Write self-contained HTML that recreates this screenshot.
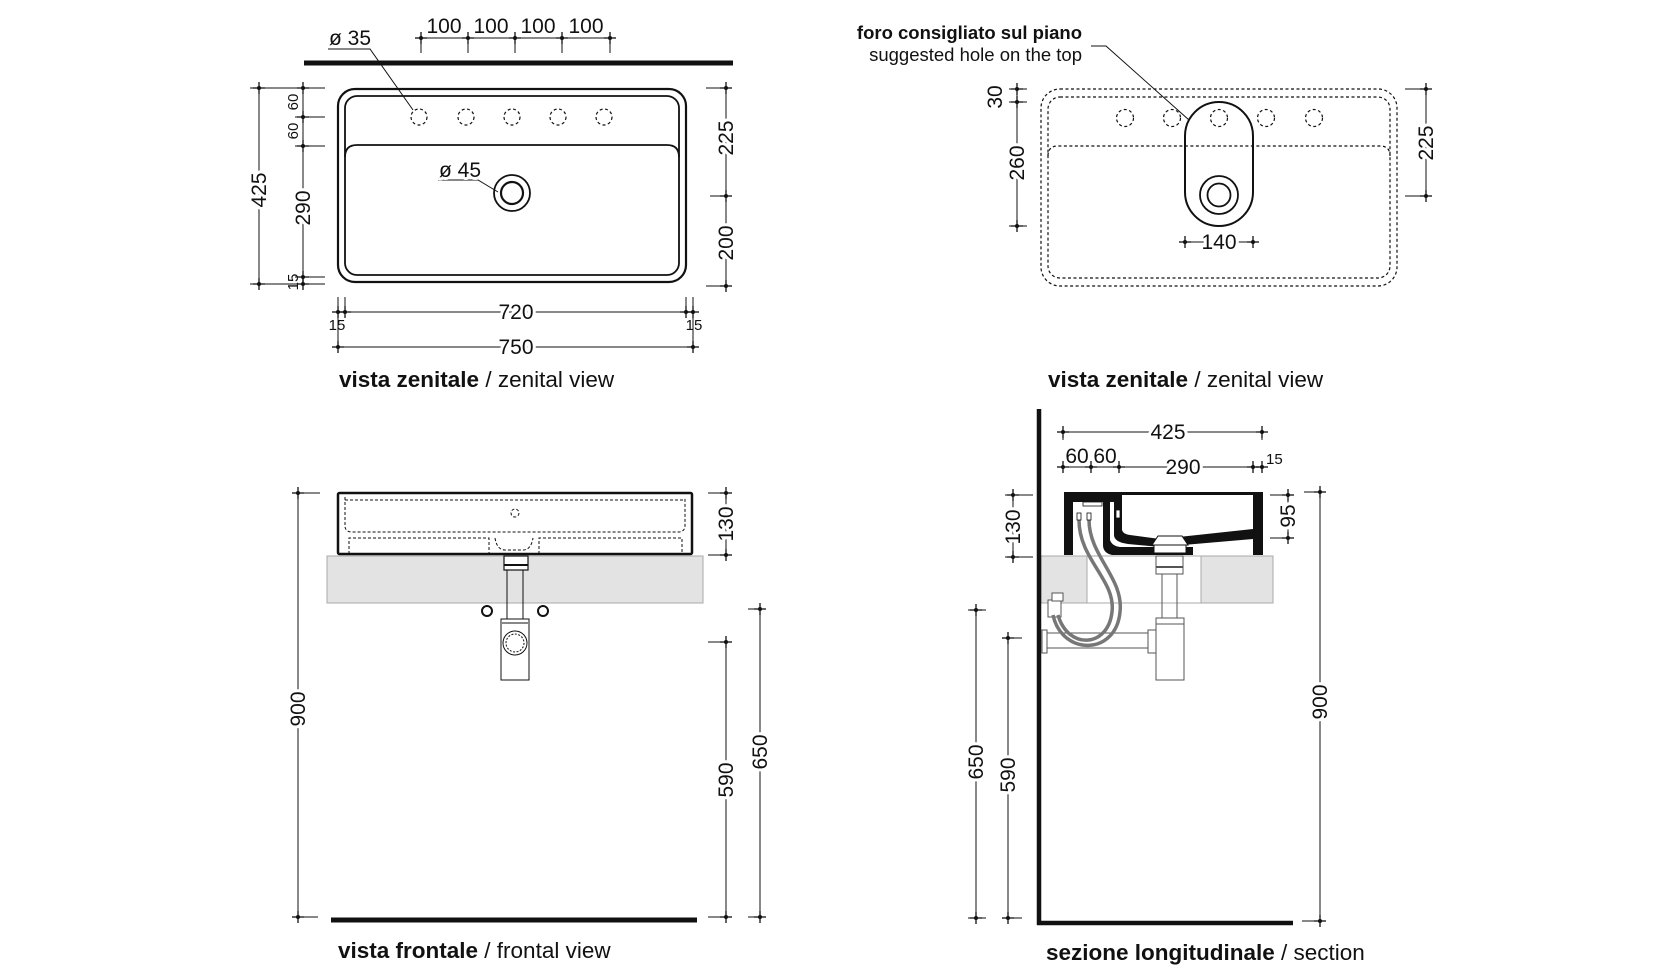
<!DOCTYPE html>
<html><head><meta charset="utf-8"><style>
html,body{margin:0;padding:0;background:#fff;}
svg{display:block;}
text{font-family:"Liberation Sans",sans-serif;fill:#111;}
.d{font-size:21px;paint-order:stroke;stroke:#fff;stroke-width:6px;stroke-linejoin:round;}
.s{font-size:15px;}
.c{font-size:22.5px;}
</style></head><body>
<svg width="1654" height="977" viewBox="0 0 1654 977" xmlns="http://www.w3.org/2000/svg">
<defs>
<g id="t" stroke="#111" stroke-width="1.3"><line x1="-6" y1="0" x2="6" y2="0"/><line x1="0" y1="-6" x2="0" y2="6"/><circle r="2" fill="#111" stroke="none"/></g>
</defs>
<rect width="1654" height="977" fill="#fff"/>

<!-- ========== TOP LEFT: vista zenitale ========== -->
<g fill="none" stroke="#111">
<line x1="304" y1="63" x2="733" y2="63" stroke-width="5"/>
<rect x="338" y="89" width="348" height="193" rx="17" stroke-width="2.2"/>
<rect x="345" y="96" width="334" height="179" rx="12" stroke-width="1.8"/>
<path d="M345,157 Q345,145 357,145 L667,145 Q679,145 679,157" stroke-width="1.8"/>
<g stroke-dasharray="3,2.5" stroke-width="1.2">
<circle cx="419" cy="117" r="8"/><circle cx="466" cy="117" r="8"/><circle cx="512" cy="117" r="8"/><circle cx="558" cy="117" r="8"/><circle cx="604" cy="117" r="8"/>
</g>
<circle cx="512" cy="193" r="18" stroke-width="1.8"/>
<circle cx="512" cy="193" r="11" stroke-width="2.2"/>
<polyline points="328,49 370,49 413,110" stroke-width="1"/>
<polyline points="438,180 478,180 498,192" stroke-width="1"/>
<g stroke-width="1"><line x1="415" y1="38" x2="616" y2="38"/>
<line x1="421" y1="38" x2="421" y2="53"/><line x1="468" y1="38" x2="468" y2="53"/><line x1="515" y1="38" x2="515" y2="53"/><line x1="562" y1="38" x2="562" y2="53"/><line x1="610" y1="38" x2="610" y2="53"/>
<line x1="259" y1="88" x2="259" y2="284"/><line x1="303" y1="88" x2="303" y2="284"/>
<line x1="250" y1="88" x2="325" y2="88"/><line x1="295" y1="117" x2="325" y2="117"/><line x1="295" y1="146" x2="325" y2="146"/><line x1="295" y1="277" x2="325" y2="277"/><line x1="250" y1="284" x2="325" y2="284"/>
<line x1="726" y1="88" x2="726" y2="286"/><line x1="706" y1="88" x2="732" y2="88"/><line x1="710" y1="196" x2="732" y2="196"/><line x1="706" y1="286" x2="732" y2="286"/>
<line x1="338" y1="312" x2="693" y2="312"/><line x1="338" y1="347" x2="693" y2="347"/>
<line x1="338" y1="297" x2="338" y2="352"/><line x1="345" y1="297" x2="345" y2="318"/><line x1="686" y1="297" x2="686" y2="318"/><line x1="693" y1="297" x2="693" y2="352"/>
</g>
</g>
<g>
<use href="#t" x="421" y="38"/><use href="#t" x="468" y="38"/><use href="#t" x="515" y="38"/><use href="#t" x="562" y="38"/><use href="#t" x="610" y="38"/>
<use href="#t" x="259" y="88"/><use href="#t" x="259" y="284"/>
<use href="#t" x="303" y="88"/><use href="#t" x="303" y="117"/><use href="#t" x="303" y="146"/><use href="#t" x="303" y="277"/><use href="#t" x="303" y="284"/>
<use href="#t" x="726" y="88"/><use href="#t" x="726" y="196"/><use href="#t" x="726" y="286"/>
<use href="#t" x="338" y="312"/><use href="#t" x="345" y="312"/><use href="#t" x="686" y="312"/><use href="#t" x="693" y="312"/>
<use href="#t" x="338" y="347"/><use href="#t" x="693" y="347"/>
</g>
<text x="444" y="33" class="d" text-anchor="middle">100</text>
<text x="491" y="33" class="d" text-anchor="middle">100</text>
<text x="538" y="33" class="d" text-anchor="middle">100</text>
<text x="586" y="33" class="d" text-anchor="middle">100</text>
<text x="329" y="45" class="d">ø 35</text>
<text x="439" y="177" class="d">ø 45</text>
<text class="d" text-anchor="middle" transform="translate(266,190) rotate(-90)">425</text>
<text class="d" text-anchor="middle" transform="translate(310,208) rotate(-90)">290</text>
<text class="s" text-anchor="middle" transform="translate(298,102) rotate(-90)">60</text>
<text class="s" text-anchor="middle" transform="translate(298,131) rotate(-90)">60</text>
<text class="s" text-anchor="middle" transform="translate(298,282) rotate(-90)">15</text>
<text class="d" text-anchor="middle" transform="translate(733,138) rotate(-90)">225</text>
<text class="d" text-anchor="middle" transform="translate(733,243) rotate(-90)">200</text>
<text x="516" y="319" class="d" text-anchor="middle">720</text>
<text x="516" y="354" class="d" text-anchor="middle">750</text>
<text x="337" y="330" class="s" text-anchor="middle">15</text>
<text x="694" y="330" class="s" text-anchor="middle">15</text>
<text x="339" y="387" class="c"><tspan font-weight="bold">vista zenitale</tspan> / zenital view</text>

<!-- ========== TOP RIGHT ========== -->
<g transform="translate(-5,0)">
<g fill="none" stroke="#111">
<g stroke-dasharray="3,2.5" stroke-width="1.2">
<rect x="1046" y="89" width="356" height="197" rx="19"/>
<rect x="1053" y="97" width="342" height="181" rx="12"/>
<path d="M1053,156 Q1053,146 1063,146 L1385,146 Q1395,146 1395,156"/>
<circle cx="1130" cy="118" r="8.5"/><circle cx="1177" cy="118" r="8.5"/><circle cx="1224" cy="118" r="8.5"/><circle cx="1271" cy="118" r="8.5"/><circle cx="1319" cy="118" r="8.5"/>
</g>
<rect x="1190" y="102" width="68" height="124" rx="34" fill="none" stroke-width="2"/>
<circle cx="1224" cy="195" r="19" stroke-width="1.8"/>
<circle cx="1224" cy="195" r="11.5" stroke-width="1.8"/>
<polyline points="1096,46 1111,46 1194,120" stroke-width="1"/>
<g stroke-width="1">
<line x1="1022" y1="89" x2="1022" y2="226"/><line x1="1014" y1="89" x2="1032" y2="89"/><line x1="1014" y1="102" x2="1032" y2="102"/><line x1="1014" y1="226" x2="1032" y2="226"/>
<line x1="1431" y1="89" x2="1431" y2="196"/><line x1="1410" y1="89" x2="1437" y2="89"/><line x1="1410" y1="196" x2="1437" y2="196"/>
<line x1="1190" y1="242" x2="1258" y2="242"/>
</g>
</g>
<use href="#t" x="1022" y="89"/><use href="#t" x="1022" y="102"/><use href="#t" x="1022" y="226"/>
<use href="#t" x="1431" y="89"/><use href="#t" x="1431" y="196"/>
<use href="#t" x="1190" y="242"/><use href="#t" x="1258" y="242"/>
<text x="1087" y="39" font-size="18.5" font-weight="bold" text-anchor="end">foro consigliato sul piano</text>
<text x="1087" y="61" font-size="18.5" text-anchor="end">suggested hole on the top</text>
<text class="d" text-anchor="middle" transform="translate(1007,97) rotate(-90)">30</text>
<text class="d" text-anchor="middle" transform="translate(1029,163) rotate(-90)">260</text>
<text class="d" text-anchor="middle" transform="translate(1438,143) rotate(-90)">225</text>
<text x="1224" y="249" class="d" text-anchor="middle">140</text>
</g>
<text x="1048" y="387" class="c"><tspan font-weight="bold">vista zenitale</tspan> / zenital view</text>

<!-- ========== BOTTOM LEFT: frontal ========== -->
<rect x="327" y="556" width="376" height="47" fill="#e3e3e3" stroke="#aaa" stroke-width="1"/>
<g fill="none" stroke="#111">
<rect x="338" y="493" width="354" height="61" stroke-width="2.5" rx="1.5"/>
<g stroke-dasharray="3,2" stroke-width="1">
<path d="M345,497 L345,527 Q346,532 352,532 L678,532 Q684,532 685,527 L685,497"/>
<line x1="345" y1="500" x2="685" y2="500"/>
<path d="M349,554 L349,538 L489,538 L489,554"/>
<path d="M539,554 L539,538 L682,538 L682,554"/>
<path d="M495,538 Q497,550 505,550 L523,550 Q531,550 533,538"/>
<circle cx="515" cy="513" r="4"/>
</g>
<rect x="504" y="556" width="24" height="14" fill="#fff" stroke-width="1.2"/>
<line x1="504" y1="565" x2="528" y2="565" stroke-width="2"/>
<line x1="507" y1="570" x2="507" y2="619" stroke-width="1"/><line x1="523" y1="570" x2="523" y2="619" stroke-width="1"/>
<rect x="501" y="619" width="28" height="61" fill="#fff" stroke-width="1"/>
<line x1="502" y1="623" x2="528" y2="623" stroke-width="1"/>
<circle cx="515" cy="643" r="12" stroke-width="1"/>
<circle cx="515" cy="643" r="9" stroke-width="1" stroke-dasharray="2,1.5"/>
<circle cx="487" cy="611" r="5" stroke-width="2"/>
<circle cx="543" cy="611" r="5" stroke-width="2"/>
<line x1="331" y1="920" x2="697" y2="920" stroke-width="5"/>
<g stroke-width="1">
<line x1="298" y1="493" x2="298" y2="917"/><line x1="292" y1="493" x2="320" y2="493"/><line x1="292" y1="917" x2="318" y2="917"/>
<line x1="726" y1="493" x2="726" y2="555"/><line x1="708" y1="493" x2="732" y2="493"/><line x1="708" y1="555" x2="732" y2="555"/>
<line x1="726" y1="642" x2="726" y2="917"/><line x1="708" y1="642" x2="732" y2="642"/><line x1="708" y1="917" x2="732" y2="917"/>
<line x1="760" y1="609" x2="760" y2="917"/><line x1="748" y1="609" x2="766" y2="609"/><line x1="748" y1="917" x2="766" y2="917"/>
</g>
</g>
<use href="#t" x="298" y="493"/><use href="#t" x="298" y="917"/>
<use href="#t" x="726" y="493"/><use href="#t" x="726" y="555"/><use href="#t" x="726" y="642"/><use href="#t" x="726" y="917"/>
<use href="#t" x="760" y="609"/><use href="#t" x="760" y="917"/>
<text class="d" text-anchor="middle" transform="translate(305,709) rotate(-90)">900</text>
<text class="d" text-anchor="middle" transform="translate(733,524) rotate(-90)">130</text>
<text class="d" text-anchor="middle" transform="translate(733,780) rotate(-90)">590</text>
<text class="d" text-anchor="middle" transform="translate(767,752) rotate(-90)">650</text>
<text x="338" y="958" class="c"><tspan font-weight="bold">vista frontale</tspan> / frontal view</text>

<!-- ========== BOTTOM RIGHT: section ========== -->
<rect x="1041" y="556" width="46" height="47" fill="#e3e3e3" stroke="#aaa" stroke-width="1"/>
<rect x="1201" y="556" width="72" height="47" fill="#e3e3e3" stroke="#aaa" stroke-width="1"/>
<line x1="1087" y1="603" x2="1201" y2="603" stroke="#aaa" stroke-width="1"/>
<line x1="1087" y1="556" x2="1201" y2="556" stroke="#aaa" stroke-width="1"/>
<g fill="#111">
<rect x="1064" y="492" width="199" height="3"/>
<rect x="1064" y="492" width="9" height="63"/>
<rect x="1064" y="492" width="58" height="10"/>
<rect x="1253" y="492" width="10" height="63"/>
<path d="M1103,500 L1110,500 L1110,540 Q1112,546 1120,547 L1193,547 L1193,555 L1112,555 Q1103,553 1103,545 Z"/>
<path d="M1114,500 L1122,500 L1122,530 Q1123,534 1130,535 L1160,539 L1253,529 L1253,539 L1160,547 L1128,544 Q1114,542 1114,535 Z"/>
</g>
<rect x="1083" y="502" width="19" height="4" fill="#fff" stroke="#111" stroke-width="0.8"/>
<rect x="1116" y="510" width="4" height="8" fill="#fff" stroke="#111" stroke-width="0.8"/>
<path d="M1152,545 L1158,536 L1182,536 L1188,545 Z" fill="#fff" stroke="#111" stroke-width="1"/>
<rect x="1154" y="545" width="32" height="8" fill="#fff" stroke="#111" stroke-width="1"/>
<g fill="none" stroke="#555" stroke-width="1">
<rect x="1156" y="556" width="27" height="18" fill="#fff"/>
<line x1="1156" y1="567" x2="1183" y2="567" stroke-width="2"/>
<line x1="1162" y1="574" x2="1162" y2="618"/><line x1="1177" y1="574" x2="1177" y2="618"/>
<rect x="1156" y="618" width="28" height="62" fill="#fff"/>
<line x1="1156" y1="624" x2="1184" y2="624"/>
<line x1="1046" y1="633" x2="1149" y2="633"/><line x1="1046" y1="648" x2="1149" y2="648"/>
<rect x="1148" y="630" width="8" height="23" fill="#fff"/>
<rect x="1042" y="630" width="5" height="23" fill="#fff"/>
<rect x="1048" y="600" width="13" height="17" fill="#fff"/>
<rect x="1052" y="593" width="11" height="8" fill="#fff"/>
</g>
<g fill="none" stroke="#777" stroke-width="3.5">
<path d="M1079,520 C1079,560 1116,580 1112,612 C1108,648 1068,650 1058,615"/>
<path d="M1089,520 C1089,556 1124,578 1120,612 C1116,656 1062,656 1053,615"/>
</g>
<g fill="none" stroke="#111">
<rect x="1077" y="513" width="4" height="7" fill="#fff" stroke-width="0.8"/>
<rect x="1087" y="513" width="4" height="7" fill="#fff" stroke-width="0.8"/>
<line x1="1039" y1="409" x2="1039" y2="925" stroke-width="4.5"/>
<line x1="1037" y1="923" x2="1293" y2="923" stroke-width="4.5"/>
<g stroke-width="1">
<line x1="1063" y1="432" x2="1262" y2="432"/><line x1="1063" y1="426" x2="1063" y2="440"/><line x1="1262" y1="426" x2="1262" y2="440"/>
<line x1="1063" y1="467" x2="1262" y2="467"/>
<line x1="1013" y1="495" x2="1013" y2="557"/><line x1="1005" y1="495" x2="1033" y2="495"/><line x1="1005" y1="557" x2="1033" y2="557"/>
<line x1="1288" y1="495" x2="1288" y2="538"/><line x1="1270" y1="495" x2="1294" y2="495"/><line x1="1270" y1="538" x2="1294" y2="538"/>
<line x1="1320" y1="492" x2="1320" y2="921"/><line x1="1304" y1="492" x2="1326" y2="492"/><line x1="1302" y1="921" x2="1326" y2="921"/>
<line x1="976" y1="610" x2="976" y2="918"/><line x1="968" y1="610" x2="986" y2="610"/><line x1="968" y1="918" x2="986" y2="918"/>
<line x1="1008" y1="638" x2="1008" y2="918"/><line x1="1002" y1="638" x2="1022" y2="638"/><line x1="1002" y1="918" x2="1022" y2="918"/>
</g>
</g>
<use href="#t" x="1063" y="432"/><use href="#t" x="1262" y="432"/>
<use href="#t" x="1063" y="467"/><use href="#t" x="1091" y="467"/><use href="#t" x="1119" y="467"/><use href="#t" x="1253" y="467"/><use href="#t" x="1262" y="467"/>
<use href="#t" x="1013" y="495"/><use href="#t" x="1013" y="557"/>
<use href="#t" x="1288" y="495"/><use href="#t" x="1288" y="538"/>
<use href="#t" x="1320" y="492"/><use href="#t" x="1320" y="921"/>
<use href="#t" x="976" y="610"/><use href="#t" x="976" y="918"/>
<use href="#t" x="1008" y="638"/><use href="#t" x="1008" y="918"/>
<text x="1168" y="439" class="d" text-anchor="middle">425</text>
<text x="1077" y="463" class="d" text-anchor="middle">60</text>
<text x="1105" y="463" class="d" text-anchor="middle">60</text>
<text x="1183" y="474" class="d" text-anchor="middle">290</text>
<text x="1266" y="464" class="s">15</text>
<text class="d" text-anchor="middle" transform="translate(1020,527) rotate(-90)">130</text>
<text class="d" text-anchor="middle" transform="translate(1295,516) rotate(-90)">95</text>
<text class="d" text-anchor="middle" transform="translate(1327,702) rotate(-90)">900</text>
<text class="d" text-anchor="middle" transform="translate(983,762) rotate(-90)">650</text>
<text class="d" text-anchor="middle" transform="translate(1015,775) rotate(-90)">590</text>
<text x="1046" y="960" class="c"><tspan font-weight="bold">sezione longitudinale</tspan> / section</text>
</svg>
</body></html>
